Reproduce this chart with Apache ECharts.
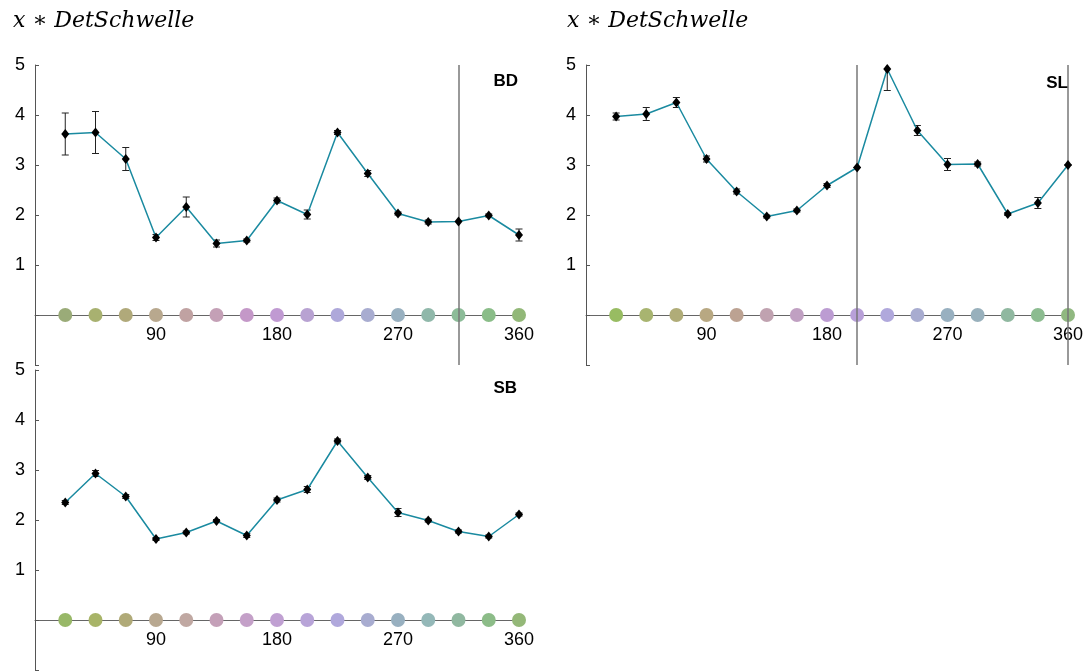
<!DOCTYPE html>
<html>
<head>
<meta charset="utf-8">
<script src="https://cdn.jsdelivr.net/npm/echarts@6/dist/echarts.min.js"></script>
<style>html,body{margin:0;padding:0;background:#fff}#c{width:1092px;height:671px}</style>
</head>
<body>
<div id="c"></div>
<script>
const angles = [22.5,45,67.5,90,112.5,135,157.5,180,202.5,225,247.5,270,292.5,315,337.5,360];
const xTickLabels = [90,180,270,360];
const yTickLabels = [1,2,3,4,5];

const bdMean = [3.62,3.65,3.12,1.55,2.16,1.43,1.49,2.29,2.01,3.65,2.83,2.03,1.86,1.87,1.99,1.60];
const bdErr  = [0.42,0.42,0.23,0.06,0.20,0.07,0.03,0.05,0.09,0.04,0.06,0.03,0.04,0.00,0.03,0.12];
const slMean = [3.97,4.02,4.25,3.12,2.47,1.97,2.09,2.59,2.95,4.92,3.69,3.01,3.02,2.02,2.24,3.00];
const slErr  = [0.07,0.13,0.10,0.06,0.05,0.03,0.03,0.04,0.00,0.43,0.10,0.12,0.04,0.03,0.11,0.00];
const sbMean = [2.35,2.93,2.47,1.62,1.75,1.98,1.69,2.40,2.61,3.58,2.85,2.15,1.99,1.77,1.67,2.11];
const sbErr  = [0.04,0.06,0.04,0.03,0.03,0.03,0.04,0.04,0.06,0.04,0.04,0.08,0.03,0.03,0.03,0.03];

const bdDotColors = ['#9aab78','#a8b170','#b0a97a','#b8a88e','#c0a2a2','#c4a0b6','#c498c8','#c09ad2','#b8a2d2','#aea8da','#a8acd0','#98b0c0','#90b8aa','#8cbc98','#8abd88','#92b878'];
const slDotColors = ['#98bc62','#a8b470','#b0ac78','#b8a882','#bca292','#c0a2b0','#c0a0c2','#bc9cd2','#b8a0d8','#b0a8dc','#a8acd0','#98b0c0','#98b0bc','#90b8a0','#8cbc90','#90b880'];
const sbDotColors = ['#98b868','#a8b468','#b0aa78','#b8a890','#c0a8a2','#c4a0b8','#c4a0c8','#c0a0d2','#b8a4d8','#b0a8dc','#a8acd0','#98b0c0','#94b8b8','#90b8a0','#8cbc88','#94b878'];

const panels = [
  {name:'BD', mean:bdMean, err:bdErr, dots:bdDotColors, vlines:[315], grid:{left:35, top:65, width:484, height:300}},
  {name:'SL', mean:slMean, err:slErr, dots:slDotColors, vlines:[202.5,360], grid:{left:586, top:65, width:482, height:300}},
  {name:'SB', mean:sbMean, err:sbErr, dots:sbDotColors, vlines:[], grid:{left:35, top:370, width:484, height:300}}
];

const lineColor = '#1a8aa0';
const grids = [], xAxes = [], yAxes = [], series = [];
panels.forEach((p, i) => {
  grids.push(Object.assign({containLabel:false}, p.grid));
  // x axis drawn at y = 0 (one unit above the bottom of the -1..5 range: 300px / 6 = 50px)
  xAxes.push({
    type:'value', gridIndex:i, min:0, max:360, interval:90, offset:-50,
    axisLine:{show:true, onZero:false, lineStyle:{color:'#666', width:1}},
    axisTick:{show:false}, splitLine:{show:false},
    axisLabel:{fontFamily:'Liberation Sans, Arial', fontSize:18, color:'#000', margin:11,
      formatter:v => xTickLabels.indexOf(v) >= 0 ? String(v) : ''}
  });
  yAxes.push({
    type:'value', gridIndex:i, min:-1, max:5, interval:1,
    axisLine:{show:true, onZero:false, lineStyle:{color:'#555', width:1}},
    axisTick:{show:true, inside:true, length:4, lineStyle:{color:'#555'}},
    splitLine:{show:false},
    axisLabel:{fontFamily:'Liberation Sans, Arial', fontSize:18, color:'#000', margin:10,
      formatter:v => yTickLabels.indexOf(v) >= 0 ? String(v) : ''}
  });
  // colored dots on the baseline
  series.push({
    type:'scatter', xAxisIndex:i, yAxisIndex:i, symbol:'circle', symbolSize:14, z:3,
    data: angles.map((a,k) => ({value:[a,0], itemStyle:{color:p.dots[k], opacity:1}})),
    markLine: p.vlines.length ? {
      silent:true, symbol:['none','none'], label:{show:false},
      lineStyle:{color:'#777', width:1.5, type:'solid'},
      data: p.vlines.map(v => ({xAxis:v}))
    } : undefined
  });
  // error bars
  series.push({
    type:'custom', xAxisIndex:i, yAxisIndex:i, z:4,
    data: angles.map((a,k) => [a, p.mean[k]-p.err[k], p.mean[k]+p.err[k]]),
    renderItem: (params, api) => {
      const lo = api.coord([api.value(0), api.value(1)]);
      const hi = api.coord([api.value(0), api.value(2)]);
      const cs = params.coordSys;
      const top = Math.max(hi[1], cs.y);
      const bot = lo[1];
      const x = lo[0], w = 3.5;
      const st = {stroke:'#222', lineWidth:1};
      const ch = [{type:'line', shape:{x1:x, y1:top, x2:x, y2:bot}, style:st},
                  {type:'line', shape:{x1:x-w, y1:bot, x2:x+w, y2:bot}, style:st}];
      if (hi[1] >= cs.y) ch.push({type:'line', shape:{x1:x-w, y1:top, x2:x+w, y2:top}, style:st});
      return {type:'group', children:ch};
    }
  });
  // mean line
  series.push({
    type:'line', xAxisIndex:i, yAxisIndex:i, z:5,
    data: angles.map((a,k) => [a, p.mean[k]]),
    symbol:'diamond', symbolSize:[8,10], showSymbol:true,
    itemStyle:{color:'#000'},
    lineStyle:{color:lineColor, width:1.5}
  });
});

const mathTitle = {fontFamily:'DejaVu Serif, Liberation Serif, serif', fontStyle:'italic', fontWeight:'normal', fontSize:22, color:'#000'};
const panelLabel = {fontFamily:'Liberation Sans, Arial', fontWeight:'bold', fontSize:17, color:'#000'};
const option = {
  animation:false,
  backgroundColor:'#fff',
  title:[
    {text:'x \u2217 DetSchwelle', left:8, top:5, textStyle:mathTitle},
    {text:'x \u2217 DetSchwelle', left:562, top:5, textStyle:mathTitle},
    {text:'BD', right:569, top:68, textStyle:panelLabel},
    {text:'SL', right:19, top:70, textStyle:panelLabel},
    {text:'SB', right:570, top:375, textStyle:panelLabel}
  ],
  grid:grids, xAxis:xAxes, yAxis:yAxes, series:series
};
const chart = echarts.init(document.getElementById('c'), null, {renderer:'canvas'});
chart.setOption(option);
</script>
</body>
</html>
